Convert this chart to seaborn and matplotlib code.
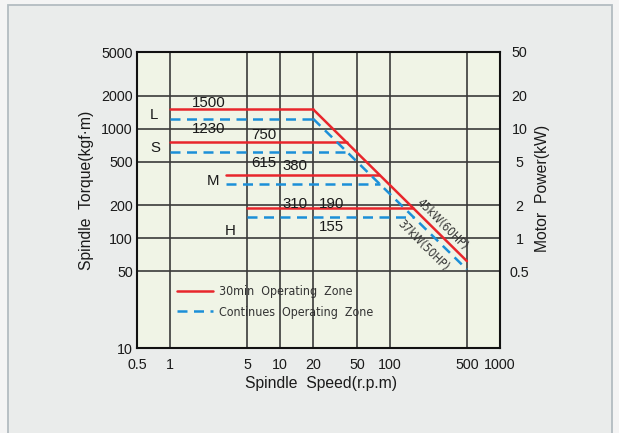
import numpy as np
import pandas as pd
import matplotlib
matplotlib.use("Agg")
import matplotlib.pyplot as plt
import seaborn as sns
from matplotlib.lines import Line2D
from matplotlib.patches import Rectangle
from matplotlib.ticker import FixedLocator, FixedFormatter, NullLocator
from matplotlib import font_manager

# ---------------- data ----------------
gears = ["L", "S", "M", "H"]
start_speed = [1, 1, 3.2, 5]
torque_30min = [1500, 750, 380, 190]
torque_cont = [1230, 615, 310, 155]
end_speed_30min = [20, 40.3, 80, 160.5]
end_speed_cont = [20, 40.5, 81, 164]
diag_speed = [20, 500]
diag_torque_30min = [1500, 62]
diag_torque_cont = [1230, 52]
power_labels = ["45kW(60HP)", "37kW(50HP)"]
zone_labels = ["30min  Operating  Zone", "Continues  Operating  Zone"]

x_ticks = [0.5, 1, 5, 10, 20, 50, 100, 500, 1000]
x_tick_labels = ["0.5", "1", "5", "10", "20", "50", "100", "500", "1000"]
y_ticks = [10, 50, 100, 200, 500, 1000, 2000, 5000]
y_tick_labels = ["10", "50", "100", "200", "500", "1000", "2000", "5000"]
power_ticks = [0.5, 1, 2, 5, 10, 20, 50]
power_tick_labels = ["0.5", "1", "2", "5", "10", "20", "50"]

# ---------------- long-form table ----------------
rows = []
for i, g in enumerate(gears):
    rows.append((f"{g}-30", "30min", start_speed[i], torque_30min[i]))
    rows.append((f"{g}-30", "30min", end_speed_30min[i], torque_30min[i]))
    rows.append((f"{g}-c", "cont", start_speed[i], torque_cont[i]))
    rows.append((f"{g}-c", "cont", end_speed_cont[i], torque_cont[i]))
for s, t in zip(diag_speed, diag_torque_30min):
    rows.append(("D-30", "30min", s, t))
for s, t in zip(diag_speed, diag_torque_cont):
    rows.append(("D-c", "cont", s, t))
df = pd.DataFrame(rows, columns=["segment", "zone", "speed", "torque"])

RED = "#e8262c"
BLUE = "#1b8fd8"

sns.set_style("white")
plt.rcParams["font.family"] = ["Liberation Sans", "DejaVu Sans"]

# condensed font for the legend / power labels
narrow_fp = font_manager.FontProperties(family="DejaVu Sans", stretch="condensed")

fig = plt.figure(figsize=(6.19, 4.33), dpi=100, facecolor="#f4f4f4")
fig.patches.append(Rectangle((8 / 619, -0.02), (612 - 8) / 619, (433 - 5) / 433 + 0.02,
                             transform=fig.transFigure, facecolor="#eaeceb",
                             edgecolor="#b3bcc1", lw=1.3, zorder=-10))
ax = fig.add_axes([137 / 619, 1 - 348 / 433, (500 - 137) / 619, (348 - 52) / 433])
ax.set_facecolor("#f0f4e6")

ax.set_xscale("log")
ax.set_yscale("log")

sns.lineplot(data=df, x="speed", y="torque", hue="zone", style="zone",
             units="segment", estimator=None, sort=False,
             palette={"30min": RED, "cont": BLUE},
             dashes={"30min": "", "cont": (4, 2.6)},
             linewidth=1.8, legend=False, ax=ax, zorder=3)

ax.set_xlim(0.5, 1000)
ax.set_ylim(10, 5000)
ax.xaxis.set_major_locator(FixedLocator(x_ticks))
ax.xaxis.set_major_formatter(FixedFormatter(x_tick_labels))
ax.xaxis.set_minor_locator(NullLocator())
ax.yaxis.set_major_locator(FixedLocator(y_ticks))
ax.yaxis.set_major_formatter(FixedFormatter(y_tick_labels))
ax.yaxis.set_minor_locator(NullLocator())
ax.grid(True, which="major", color="#3a3a3a", lw=1.2)
ax.set_axisbelow(True)
ax.tick_params(axis="both", length=0, labelsize=10.3, colors="#1a1a1a")
ax.tick_params(axis="x", pad=7)
ax.tick_params(axis="y", pad=3)
for sp in ax.spines.values():
    sp.set_color("#111111")
    sp.set_linewidth(1.5)

ax.set_xlabel("Spindle  Speed(r.p.m)", fontsize=11.3, color="#1a1a1a")
ax.set_ylabel("Spindle  Torque(kgf\u00b7m)", fontsize=11.3, color="#1a1a1a")
ax.xaxis.set_label_coords(0.507, -0.093)
ax.yaxis.set_label_coords(-0.118, 0.534)

# right axis: motor power
ax2 = ax.twinx()
ax2.set_yscale("log")
ax2.set_ylim(0.1, 50)
ax2.yaxis.set_major_locator(FixedLocator(power_ticks))
ax2.yaxis.set_major_formatter(FixedFormatter(power_tick_labels))
ax2.yaxis.set_minor_locator(NullLocator())
ax2.tick_params(axis="y", length=0, labelsize=10.3, pad=14, colors="#1a1a1a")
for lab in ax2.get_yticklabels():
    lab.set_horizontalalignment("center")
ax2.grid(False)
for sp in ax2.spines.values():
    sp.set_visible(False)
ax2.set_ylabel("Motor  Power(kW)", fontsize=11.3, color="#1a1a1a", rotation=90)
ax2.yaxis.set_label_coords(1.096, 0.54)

# in-plot labels
tk = dict(fontsize=10.8, color="#1a1a1a", ha="center", va="center", zorder=5)
ax.text(2.23, 1726, "1500", **tk)
ax.text(2.23, 986, "1230", **tk)
ax.text(7.1, 873, "750", **tk)
ax.text(7.1, 489, "615", **tk)
ax.text(13.6, 454, "380", **tk)
ax.text(13.6, 206, "310", **tk)
ax.text(29.6, 206, "190", **tk)
ax.text(29.6, 126, "155", **tk)
ax.text(0.72, 1334, gears[0], **tk)
ax.text(0.73, 666, gears[1], **tk)
ax.text(2.46, 332, gears[2], **tk)
ax.text(3.55, 117, gears[3], **tk)

fp_diag = narrow_fp.copy()
fp_diag.set_size(8.6)
ax.text(301, 133, power_labels[0], fontproperties=fp_diag, color="#333333",
        rotation=-45, ha="center", va="center", rotation_mode="anchor", zorder=5)
ax.text(199, 86, power_labels[1], fontproperties=fp_diag, color="#333333",
        rotation=-45, ha="center", va="center", rotation_mode="anchor", zorder=5)

fp_leg = narrow_fp.copy()
fp_leg.set_size(8.9)
handles = [Line2D([0], [0], color=RED, lw=1.8),
           Line2D([0], [0], color=BLUE, lw=1.8, dashes=(4, 2.6))]
leg = ax.legend(handles, zone_labels, loc="upper left", bbox_to_anchor=(0.08, 0.25),
                frameon=False, handlelength=2.9, handletextpad=0.45, labelspacing=0.62,
                prop=fp_leg)
for t in leg.get_texts():
    t.set_color("#333333")

fig.savefig("out.png", dpi=100, facecolor=fig.get_facecolor())
